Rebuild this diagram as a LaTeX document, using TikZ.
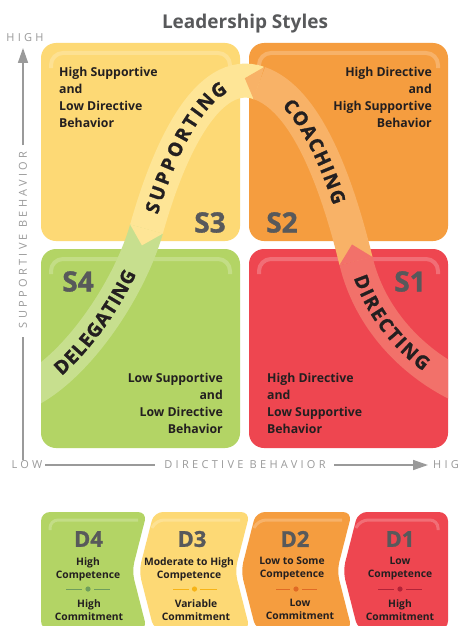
\documentclass[tikz,border=0pt]{standalone}
\usepackage{fontspec}
\setmainfont{Open Sans}
\newfontfamily\axisfam[LetterSpace=30]{Open Sans}
\newfontfamily\heavyfam[BoldFeatures={FakeBold=1.2}]{Open Sans}
\usetikzlibrary{arrows.meta,calc,decorations.text}
\definecolor{cY}{HTML}{FDD975}
\definecolor{cYl}{HTML}{FEE596}
\definecolor{cO}{HTML}{F59D3F}
\definecolor{cOl}{HTML}{F8B267}
\definecolor{cG}{HTML}{B3D465}
\definecolor{cGl}{HTML}{C7DF8E}
\definecolor{cR}{HTML}{EE4650}
\definecolor{cRl}{HTML}{F2716A}
\definecolor{txt}{HTML}{231F20}
\definecolor{slab}{HTML}{58595B}
\definecolor{axisc}{HTML}{9A9A9A}
\definecolor{dG}{HTML}{6E9E5C}
\definecolor{dY}{HTML}{F7B417}
\definecolor{dO}{HTML}{E06A25}
\definecolor{dR}{HTML}{B22338}
\newcommand\bandfont{\heavyfam\bfseries\fontsize{19}{19}\selectfont}
\newcommand\qfont{\bfseries\fontsize{12.3}{17}\selectfont}
\newcommand\dfont{\bfseries\fontsize{10.3}{13}\selectfont}
\newcommand\axfont{\axisfam\fontsize{11}{12}\selectfont}
\begin{document}
\begin{tikzpicture}[x=1pt,y=-1pt,
  qbox/.style={rounded corners=15pt},
  gloss/.style={white,opacity=.22,line width=4pt,rounded corners=12pt},
  qtext/.style={font=\qfont,text=txt,inner sep=0pt},
  slabel/.style={font=\heavyfam\bfseries\fontsize{28}{28}\selectfont,text=slab,inner sep=0pt},
  dlabel/.style={font=\heavyfam\bfseries\fontsize{22}{22}\selectfont,text=slab,inner sep=0pt},
  dtext/.style={font=\dfont,text=txt,inner sep=0pt,align=center,anchor=north},
  axline/.style={axisc,line width=1.5pt},
  axtip/.style={-{Triangle[length=15pt,width=10pt]}},
  axlabel/.style={font=\axfont,text=axisc,inner sep=0pt},
  band/.style={line width=34pt},
  bandtext/.style={decorate,decoration={text along path,text color=txt,raise=-6.8pt}},
  chev/.style={rounded corners=9pt}
]
\useasboundingbox (0,0) rectangle (461,626);
\fill[white] (0,0) rectangle (461,626);

% title
\node[font=\bfseries\fontsize{19}{21}\selectfont,text=slab,anchor=base,inner sep=0pt] (title) at (245,29) {Leadership Styles};

% quadrant boxes
\fill[cY,qbox] (41,43) rectangle (240,241);
\fill[cO,qbox] (249,43) rectangle (448,241);
\fill[cG,qbox] (41,249) rectangle (240,448);
\fill[cR,qbox] (249,249) rectangle (448,448);
\draw[gloss] (51,68) -- (51,53) -- (230,53) -- (230,68);
\draw[gloss] (259,68) -- (259,53) -- (438,53) -- (438,68);
\draw[gloss] (51,274) -- (51,259) -- (230,259) -- (230,274);
\draw[gloss] (259,274) -- (259,259) -- (438,259) -- (438,274);

% curved band
\coordinate (E0) at (30,390);
\coordinate (J1) at (146.5,229);
\coordinate (J1f) at (168,152);
\coordinate (J2) at (259,83);
\coordinate (J2f) at (306.5,99);
\coordinate (J3) at (356,261);
\coordinate (J3f) at (370,319);
\coordinate (E4) at (459,385);
\begin{scope}
\clip (41,43) rectangle (448,448);
\draw[band,cGl] (E0) .. controls (80,363) and (130,287) .. (J1);
\draw[band,cYl] (J1) .. controls (J1f) and (207,65) .. (J2);
\draw[band,cOl] (J2) .. controls (J2f) and (337,183) .. (J3);
\draw[band,cRl] (J3) .. controls (J3f) and (412,362) .. (E4);
\fill[cYl] ($(J1)!17pt!90:(J1f)$) -- ($(J1)!-17pt!(J1f)$) -- ($(J1)!17pt!-90:(J1f)$) -- cycle;
\fill[cOl] ($(J2)!17pt!90:(J2f)$) -- ($(J2)!-15pt!(J2f)$) -- ($(J2)!17pt!-90:(J2f)$) -- cycle;
\fill[cRl] ($(J3)!17pt!90:(J3f)$) -- ($(J3)!-17pt!(J3f)$) -- ($(J3)!17pt!-90:(J3f)$) -- cycle;
\path[bandtext,decoration={text={|\bandfont|DELEGATING},text align={fit to path,left indent=33pt,right indent=45pt}}]
  (E0) .. controls (80,363) and (130,287) .. (J1);
\path[bandtext,decoration={text={|\bandfont|SUPPORTING},text align={fit to path,left indent=17pt,right indent=36pt}}]
  (J1) .. controls (J1f) and (207,65) .. (J2);
\path[bandtext,decoration={text={|\bandfont|COACHING},text align={fit to path,left indent=34pt,right indent=60pt}}]
  (J2) .. controls (J2f) and (337,183) .. (J3);
\path[bandtext,decoration={text={|\bandfont|DIRECTING},text align={fit to path,left indent=15pt,right indent=37pt}}]
  (J3) .. controls (J3f) and (412,362) .. (E4);
\end{scope}

% quadrant texts
\node[qtext,anchor=north west,align=left] (tl) at (59,66.8) {High Supportive\\and\\Low Directive\\Behavior};
\node[qtext,anchor=north east,align=right] (tr) at (432,66.8) {High Directive\\and\\High Supportive\\Behavior};
\node[qtext,anchor=north east,align=right] (bl) at (223,372.8) {Low Supportive\\and\\Low Directive\\Behavior};
\node[qtext,anchor=north west,align=left] (br) at (267,372.8) {High Directive\\and\\Low Supportive\\Behavior};

% style labels
\node[slabel] (s3) at (210,222.5) {S3};
\node[slabel] (s2) at (282,222.5) {S2};
\node[slabel] (s4) at (78,281.5) {S4};
\node[slabel] (s1) at (410,281.5) {S1};

% axes
\node[axlabel] (yhigh) at (25,38) {HIGH};
\node[axlabel,rotate=90] (ylab) at (23,240) {SUPPORTIVE BEHAVIOR};
\node[axlabel] (low) at (27,465) {LOW};
\node[axlabel] (xlab) at (245,465) {DIRECTIVE BEHAVIOR};
\node[axlabel,anchor=west] (xhigh) at (433,465) {HIGH};
\coordinate (ya) at (23,460);
\coordinate (yb) at (23,337);
\coordinate (yc) at (23,145);
\coordinate (yd) at (23,48);
\coordinate (xa) at (45,465);
\coordinate (xb) at (155,465);
\coordinate (xc) at (334,465);
\coordinate (xd) at (428,465);
\draw[axline] (ya) -- (yb);
\draw[axline,axtip] (yc) -- (yd);
\draw[axline] (xa) -- (xb);
\draw[axline,axtip] (xc) -- (xd);

% development chevrons
\fill[cG,chev] (41,512) -- (147,512) -- (132,571) -- (147,630) -- (41,630) -- cycle;
\fill[cY,chev] (154,512) -- (250,512) -- (235,571) -- (250,630) -- (154,630) -- (139,571) -- cycle;
\fill[cO,chev] (256,512) -- (352,512) -- (337,571) -- (352,630) -- (256,630) -- (241,571) -- cycle;
\fill[cR,chev] (358,512) -- (448,512) -- (448,630) -- (358,630) -- (343,571) -- cycle;
\draw[gloss,line width=3pt,rounded corners=8pt] (50,530) -- (50,520) -- (138,520);
\draw[gloss,line width=3pt,rounded corners=8pt] (152,528) -- (156,520) -- (240,520);
\draw[gloss,line width=3pt,rounded corners=8pt] (254,528) -- (258,520) -- (342,520);
\draw[gloss,line width=3pt,rounded corners=8pt] (356,528) -- (360,520) -- (438,520) -- (438,530);

\node[dlabel] (d4) at (88.5,539) {D4};
\node[dlabel] (d3) at (192,539) {D3};
\node[dlabel] (d2) at (295,539) {D2};
\node[dlabel] (d1) at (400,539) {D1};

\node[dtext] (d4a) at (88,557.2) {High\\Competence};
\node[dtext] (d4b) at (89,599.2) {High\\Commitment};
\node[dtext] (d3a) at (189,557.2) {Moderate to High\\Competence};
\node[dtext] (d3b) at (196,599.2) {Variable\\Commitment};
\node[dtext] (d2a) at (292,557.2) {Low to Some\\Competence};
\node[dtext] (d2b) at (300,599.2) {Low\\Commitment};
\node[dtext] (d1a) at (400,557.2) {Low\\Competence};
\node[dtext] (d1b) at (400,599.2) {High\\Commitment};

\draw[dG,line width=1pt] (66,589) -- (82,589) (94,589) -- (110,589);
\fill[dG] (88,589) circle (2.6pt);
\draw[dY,line width=1pt] (173,589) -- (189,589) (200,589) -- (217,589);
\fill[dY] (194.5,589) circle (2.6pt);
\draw[dO,line width=1pt] (276,589) -- (290,589) (302,589) -- (317,589);
\fill[dO] (296,589) circle (2.6pt);
\draw[dR,line width=1pt] (378,589) -- (394,589) (406,589) -- (422,589);
\fill[dR] (400,589) circle (2.6pt);
\end{tikzpicture}
\end{document}
